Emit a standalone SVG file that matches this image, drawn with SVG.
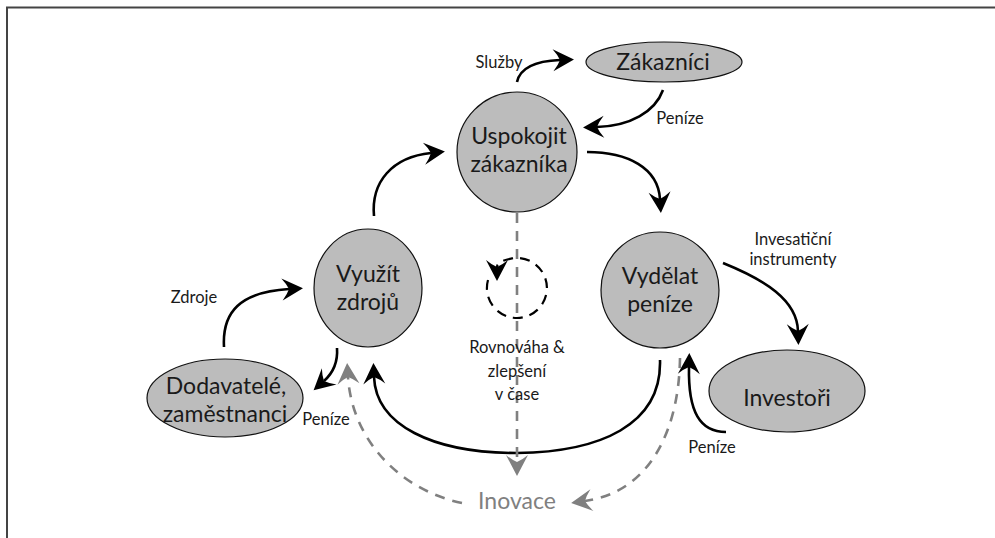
<svg xmlns="http://www.w3.org/2000/svg" width="995" height="538" viewBox="0 0 995 538">
<style>
text{font-family:Lato,"Open Sans","Liberation Sans",sans-serif;text-anchor:middle;fill:#1a1a1a}
.big{font-size:23px}
.small{font-size:16.5px}
.inov{font-size:23px;fill:#808080}
.node{fill:#bcbcbc;stroke:#111;stroke-width:1.2}
.arr{fill:none;stroke:#000;stroke-width:2.6;marker-end:url(#ah)}
.gd{fill:none;stroke:#808080;stroke-width:2.6;stroke-dasharray:10 8;marker-end:url(#ag)}
.bd{fill:none;stroke:#000;stroke-width:2.2;stroke-dasharray:10 7;marker-end:url(#ah)}
</style>
<defs>
<marker id="ah" markerUnits="userSpaceOnUse" markerWidth="26" markerHeight="26" viewBox="-22 -13 26 26" refX="-14" refY="0" orient="auto">
<path d="M0,0 L-21,-11 Q-16,-5 -14,0 Q-16,5 -21,11 Z" fill="#000"/>
</marker>
<marker id="ag" markerUnits="userSpaceOnUse" markerWidth="26" markerHeight="26" viewBox="-22 -13 26 26" refX="-14" refY="0" orient="auto">
<path d="M0,0 L-21,-11 Q-16,-5 -14,0 Q-16,5 -21,11 Z" fill="#808080"/>
</marker>
</defs>
<rect width="995" height="538" fill="#fff"/>
<path d="M7,538 L7,7.5 L995,7.5" fill="none" stroke="#444" stroke-width="2"/>

<g id="connectors">
<path class="arr" d="M517,82 C520,68 535,61 560,60"/>
<path class="arr" d="M663,90 C655,112 630,126 597,127"/>
<path class="arr" d="M587,152 C628,152 658,168 660,199"/>
<path class="arr" d="M374,216 C371,182 392,157 431,153"/>
<path class="arr" d="M723,263 C765,280 797,300 798,331"/>
<path class="arr" d="M726,432 C700,432 688,412 689,367"/>
<path class="arr" d="M660,360 C662,425 600,452 517,453 C432,453 376,425 374,377"/>
<path class="arr" d="M337,348 C338,362 334,372 324,381"/>
<path class="arr" d="M224,347 C222,312 240,292 289,289"/>
<path class="gd" d="M517,213 L517,462"/>
<path class="gd" d="M462,503 C400,490 352,440 348,377"/>
<path class="gd" d="M680,358 C679,430 650,492 585,501"/>
<path class="bd" d="M488,280 A30,30 0 1 0 512,258.4 C503,260 497,263 497,267"/>
</g>

<g id="n-uspokojit">
<ellipse class="node" cx="517" cy="152" rx="60" ry="60"/>
<text class="big" x="519" y="144">Uspokojit</text>
<text class="big" x="519" y="172">zákazníka</text>
</g>
<g id="n-zakaznici">
<ellipse class="node" cx="664" cy="62" rx="78" ry="20"/>
<text class="big" x="663" y="70">Zákazníci</text>
</g>
<g id="n-vyuzit">
<ellipse class="node" cx="368" cy="288" rx="54" ry="59"/>
<text class="big" x="368" y="282">Využít</text>
<text class="big" x="368" y="310">zdrojů</text>
</g>
<g id="n-vydelat">
<ellipse class="node" cx="660" cy="290" rx="59" ry="58"/>
<text class="big" x="660" y="284">Vydělat</text>
<text class="big" x="660" y="312">peníze</text>
</g>
<g id="n-dodavatele">
<ellipse class="node" cx="225" cy="398" rx="78" ry="39"/>
<text class="big" x="226" y="394">Dodavatelé,</text>
<text class="big" x="225" y="422">zaměstnanci</text>
</g>
<g id="n-investori">
<ellipse class="node" cx="787" cy="391" rx="78" ry="41"/>
<text class="big" x="787" y="406">Investoři</text>
</g>

<g id="labels">
<text class="small" x="499" y="68">Služby</text>
<text class="small" x="680" y="124">Peníze</text>
<text class="small" x="793" y="245">Invesatiční</text>
<text class="small" x="793" y="265">instrumenty</text>
<text class="small" x="712" y="453">Peníze</text>
<text class="small" x="326" y="425">Peníze</text>
<text class="small" x="194" y="303">Zdroje</text>
<text class="small" x="517" y="353">Rovnováha &amp;</text>
<text class="small" x="517" y="377">zlepšení</text>
<text class="small" x="517" y="400">v čase</text>
<text class="inov" x="517" y="509">Inovace</text>
</g>
</svg>
